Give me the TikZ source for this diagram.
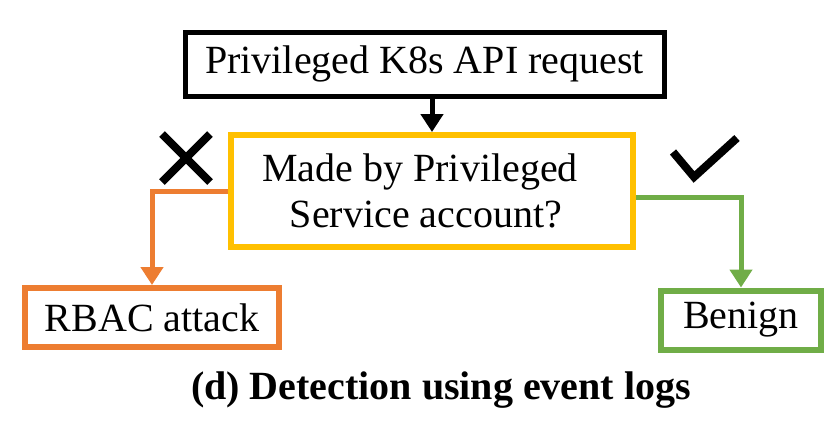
\documentclass[tikz,border=0pt]{standalone}
\usepackage{fontspec}
\setmainfont{Liberation Serif}
\usetikzlibrary{arrows.meta}
\definecolor{boxyellow}{HTML}{FFC000}
\definecolor{boxorange}{HTML}{ED7D31}
\definecolor{boxgreen}{HTML}{70AD47}

\begin{document}
\begin{tikzpicture}[x=1pt,y=-1pt,font=\fontsize{40}{46}\selectfont,
	box/.style={draw,line width=5pt,inner sep=0pt,align=center},
	flow/.style={line width=5pt,-{Triangle[width=22pt,length=18pt]}}]
	\useasboundingbox (0,0) rectangle (838,429);
	\node[box,minimum width=479pt,minimum height=64pt] (req) at (424.5,64) {Privileged K8s API request};
	\node[box,boxyellow,line width=6pt,text=black,minimum width=402pt,minimum height=112pt] (dec) at (432,191) {Made by Privileged\hspace*{24pt}\\Service account?\hspace*{12pt}};
	\node[box,boxorange,line width=6pt,text=black,minimum width=254pt,minimum height=59pt] (rbac) at (152,317.5) {RBAC attack};
	\node[box,boxgreen,line width=6pt,text=black,minimum width=160pt,minimum height=59pt] (benign) at (741,320) {Benign};
	\node[font=\fontsize{40}{46}\selectfont\bfseries] (cap) at (441,390) {(d) Detection using event logs};
	\draw[flow] (req.south -| dec.north) -- (dec.north);
	\draw[flow,boxorange] (dec.west) -| (rbac.north);
	\draw[flow,boxgreen] ([yshift=-6pt]dec.east) -| (benign.north);
	% no / yes marks
	\draw[line width=8pt] (162,134) -- (210,182) (210,134) -- (162,182);
	\draw[line width=8pt] (673,152) -- (694,177) -- (737,138);
\end{tikzpicture}
\end{document}
